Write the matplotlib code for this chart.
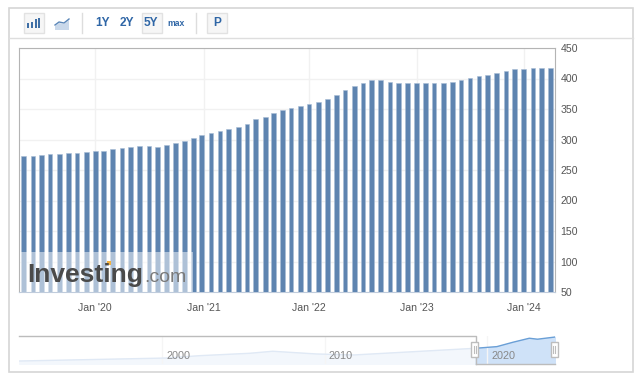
# -*- coding: utf-8 -*-
"""
monthly bar chart with range selector, toolbar and navigator strip
"""

import matplotlib.pyplot as plt
from matplotlib.patches import Rectangle

plt.rcParams['font.family'] = ['Liberation Sans', 'DejaVu Sans']

# release days counted from 1 Jan 2020
BAR_DAYS = [
    -243, -210, -182, -152, -120, -90, -60, -27, 2, 31,
    61, 93, 122, 152, 185, 213, 244, 275, 305, 335,
    364, 396, 426, 456, 488, 518, 548, 580, 609, 638,
    668, 699, 729, 760, 791, 822, 851, 883, 913, 942,
    971, 1004, 1034, 1063, 1095, 1125, 1154, 1187, 1216, 1246,
    1276, 1307, 1337, 1366, 1399, 1428, 1458, 1491, 1520, 1550]
BAR_VALUES = [
    273, 273, 275, 276, 276, 278, 278, 280, 281, 281,
    284, 286, 287, 289, 289, 287, 291, 294, 298, 303,
    307, 310, 314, 317, 320, 326, 333, 337, 343, 348,
    351, 355, 359, 362, 367, 373, 381, 387, 392, 398,
    398, 395, 392, 392, 393, 392, 392, 393, 395, 398,
    401, 404, 406, 409, 412, 415, 415, 417, 417, 417]
TICK_DAYS = [0, 371, 730, 1095, 1461]
TICK_LABELS = ["Jan '20", "Jan '21", "Jan '22", "Jan '23", "Jan '24"]
Y_TICKS = [50, 100, 150, 200, 250, 300, 350, 400, 450]

NAV_YEARS = [1991.2, 2000.3, 2002.3, 2005.4, 2006.8, 2009.5, 2011.8, 2019.3]
NAV_VALUES = [46, 92, 128, 165, 196, 154, 139, 242]
NAV_SEL_YEARS = [2019.3, 2020.6, 2021.6, 2022.6, 2023.1, 2024.1, 2024.2]
NAV_SEL_VALUES = [242, 267, 335, 396, 381, 412, 416]
NAV_TICKS = [2000, 2010, 2020]

WIDTH, HEIGHT = 640, 380


def px_axes(fig, left, top, right, bottom, **kwargs):
    """
    axes placed by pixel box, y measured from the top of the figure
    """
    return fig.add_axes(
        [left/WIDTH, 1 - bottom/HEIGHT,
         (right - left)/WIDTH, (bottom - top)/HEIGHT], **kwargs)


def draw_main(fig):
    ax = px_axes(fig, 19, 48, 555, 292)
    ax.bar(BAR_DAYS, BAR_VALUES, width=16, bottom=0, color='#5e84b0',
           edgecolor='#a8bdd5', linewidth=0.4, zorder=3)
    ax.set_xlim(-257.5, 1565.6)
    ax.set_ylim(50, 450)
    ax.set_xticks(TICK_DAYS, TICK_LABELS)
    ax.set_yticks(Y_TICKS)
    ax.yaxis.tick_right()
    ax.grid(color='#f1f1f1', linewidth=1, zorder=0)
    ax.tick_params(length=0, labelsize=7.6, labelcolor='#555555')
    ax.tick_params(axis='x', pad=8)
    ax.tick_params(axis='y', pad=4)
    for tmp_name in ['top', 'left', 'right']:
        ax.spines[tmp_name].set_color('#b4b4b4')
    ax.spines['bottom'].set_color('#c0ccdc')


def draw_navigator(fig):
    ax = px_axes(fig, 19, 335.5, 555, 364)
    ax.fill_between(NAV_YEARS, NAV_VALUES, color='#f3f7fc', zorder=1)
    ax.plot(NAV_YEARS, NAV_VALUES, color='#e0e9f5', linewidth=1, zorder=2)
    ax.fill_between(NAV_SEL_YEARS, NAV_SEL_VALUES, color='#cfe2f8', zorder=1)
    ax.plot(NAV_SEL_YEARS, NAV_SEL_VALUES, color='#6a9fd6', linewidth=1,
            zorder=2)
    ax.set_xlim(1991.18, 2024.18)
    ax.set_ylim(0, 438)
    ax.set_yticks([])
    ax.set_xticks(NAV_TICKS)
    ax.set_xticklabels([])
    ax.tick_params(length=0)
    ax.grid(axis='x', color='#f5f5f5', linewidth=1, zorder=0)
    for tmp_spine in ax.spines.values():
        tmp_spine.set_visible(False)
    ax.patch.set_alpha(0)
    for tmp_year in NAV_TICKS:
        ax.text(tmp_year + 0.98, 120, str(tmp_year), ha='center', va='center',
                fontsize=7.8, color='#888888', zorder=4)


def draw_button(ax, left, right):
    ax.add_patch(Rectangle((left, 12.5), right - left, 20.5, facecolor='#f6f6f6',
                           edgecolor='#e2e2e2', linewidth=1))


def draw_chrome(ax):
    """
    frame, toolbar, watermark and navigator handles, in pixel coordinates
    """
    ax.set_xlim(0, WIDTH)
    ax.set_ylim(HEIGHT, 0)
    ax.axis('off')
    ax.patch.set_alpha(0)

    ax.add_patch(Rectangle((9, 8), 624, 364, fill=False,
                           edgecolor='#d6d6d6', linewidth=1.2))
    ax.plot([9, 633], [37.5, 37.5], color='#dedede', linewidth=1)
    for tmp_x in [82, 196]:
        ax.plot([tmp_x, tmp_x], [13, 33], color='#dddddd', linewidth=1)
    draw_button(ax, 23.5, 43.5)
    draw_button(ax, 141.5, 161.5)
    draw_button(ax, 206.5, 226.5)

    # bar icon
    for tmp_x, tmp_top in zip([26.5, 30.5, 34.5, 37.5], [23, 22, 19, 18]):
        ax.add_patch(Rectangle((tmp_x, tmp_top), 2.8, 28 - tmp_top,
                               facecolor='#3f6fa6', edgecolor='none'))
    # line icon
    ax.fill([55, 59, 64, 69, 69, 55], [26, 23, 24, 20, 30, 30],
            color='#c9d8ea', linewidth=0)
    ax.plot([55, 59, 64, 69], [25, 22, 23, 19], color='#5a86b8', linewidth=1)

    for tmp_x, tmp_text, tmp_size in [(103, '1Y', 8.6), (127, '2Y', 8.6),
                                      (151, '5Y', 8.6), (175.5, 'max', 6.2),
                                      (217, 'P', 8.6)]:
        ax.text(tmp_x, 23, tmp_text, ha='center', va='center',
                fontsize=tmp_size, color='#2f66a6', fontweight='bold')

    # watermark
    ax.add_patch(Rectangle((20, 251.7), 173, 40, facecolor='white',
                           edgecolor='none', alpha=0.5))
    ax.text(27.5, 281.7, 'Investing', fontsize=19, fontweight='bold',
            color='#4a4a4a', ha='left', va='baseline')
    ax.text(144.5, 281.7, '.com', fontsize=14, color='#7a7a7a',
            ha='left', va='baseline')
    ax.add_patch(Rectangle((106.7, 261), 4, 4, facecolor='#f4b23f',
                           edgecolor='none'))

    # navigator outline and handles
    ax.plot([19, 475.7, 475.7], [335.7, 335.7, 364], color='#bcbcbc',
            linewidth=1)
    ax.plot([475.7, 554.5], [364, 364], color='#bcbcbc', linewidth=1)
    for tmp_x in [474.5, 554.4]:
        ax.add_patch(Rectangle((tmp_x - 3.8, 342), 7.6, 15, facecolor='white',
                               edgecolor='#bdbdbd', linewidth=1, zorder=5))
        for tmp_dx in [-1, 1]:
            ax.plot([tmp_x + tmp_dx]*2, [346, 353], color='#bdbdbd',
                    linewidth=0.8, zorder=6)


FIG = plt.figure(figsize=(WIDTH/100, HEIGHT/100), dpi=100, facecolor='white')
draw_main(FIG)
draw_navigator(FIG)
draw_chrome(FIG.add_axes([0, 0, 1, 1]))
FIG.savefig('out.png', dpi=100)
